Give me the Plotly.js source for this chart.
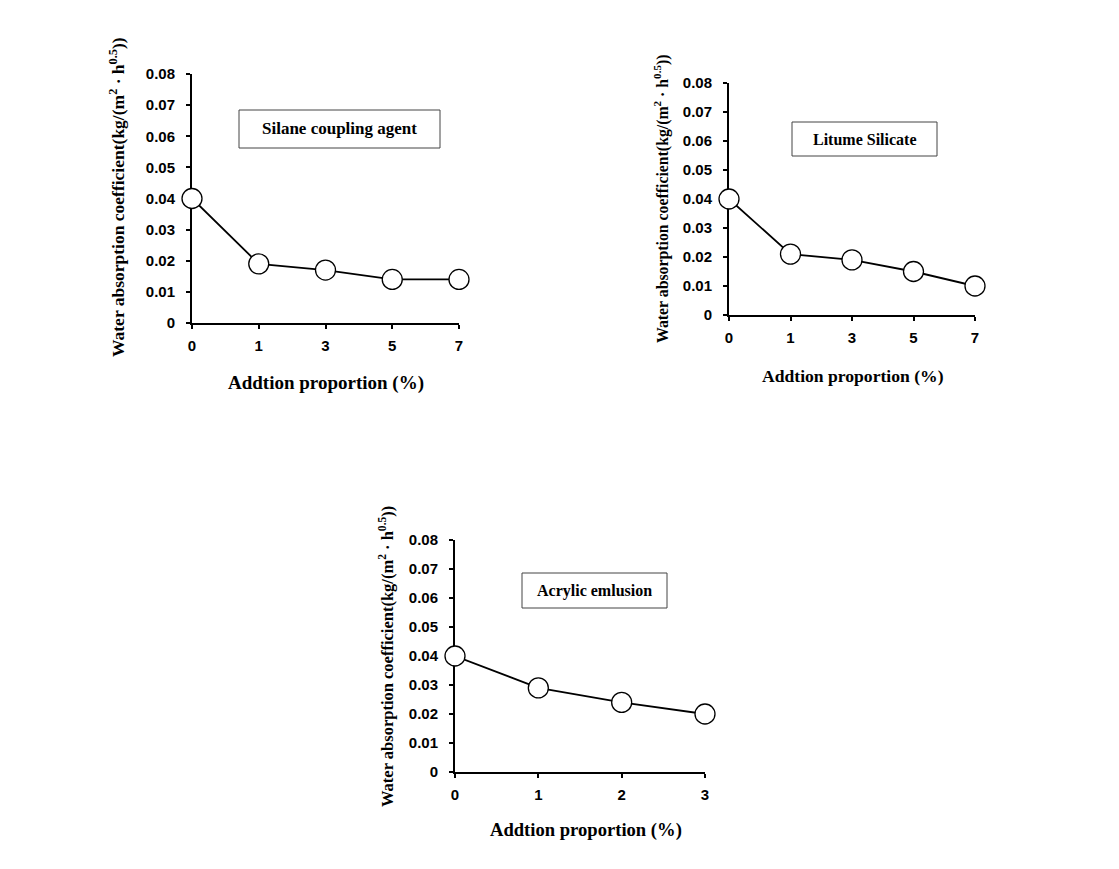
<!DOCTYPE html>
<html>
<head>
<meta charset="utf-8">
<script src="https://cdn.plot.ly/plotly-3.0.1.min.js"></script>
<style>html,body{margin:0;padding:0;background:#fff;}#chart{width:1119px;height:869px;}</style>
</head>
<body>
<div id="chart"></div>
<script>
// Data
const silaneX = ["0", "1", "3", "5", "7"];
const silaneY = [0.040, 0.019, 0.017, 0.014, 0.014];
const litumeX = ["0", "1", "3", "5", "7"];
const litumeY = [0.040, 0.021, 0.019, 0.015, 0.010];
const acrylicX = ["0", "1", "2", "3"];
const acrylicY = [0.040, 0.029, 0.024, 0.020];
const panelNames = ["Silane coupling agent", "Litume Silicate", "Acrylic emlusion"];
const yTickVals = [0, 0.01, 0.02, 0.03, 0.04, 0.05, 0.06, 0.07, 0.08];
const yTickText = ["0", "0.01", "0.02", "0.03", "0.04", "0.05", "0.06", "0.07", "0.08"];
const xTitle = "Addtion proportion (%)";
const yTitle = "Water absorption coefficient(kg/(m<sup>2</sup> · h<sup>0.5</sup>))";

const W = 1119, H = 869;
const tickFont = {family: "Liberation Sans, Arial, sans-serif", size: 15, color: "#000", weight: "bold"};
const serifBold = {family: "Liberation Serif, Times New Roman, serif", color: "#000", weight: "bold"};

function mkTrace(x, y, xa, ya) {
  return {
    x: x, y: y, xaxis: xa, yaxis: ya, type: "scatter", mode: "lines+markers",
    line: {color: "#000", width: 1.8},
    marker: {symbol: "circle", size: 20, color: "#fff", line: {color: "#000", width: 1.3}},
    cliponaxis: false, showlegend: false, hoverinfo: "x+y"
  };
}

// panel geometry in pixels: [left, right, top, bottom]
const P = [[192, 459, 74, 323], [729, 975, 83, 315], [455, 705, 540, 772]];
function dx(px) { return px / W; }
function dy(py) { return 1 - py / H; }

function xa(p, n) {
  return {
    domain: [dx(P[p][0]), dx(P[p][1])], anchor: "y" + (p === 0 ? "" : p + 1),
    type: "category", range: [0, n - 1], showgrid: false, zeroline: false,
    showline: true, linecolor: "#000", linewidth: 2, layer: "below traces",
    ticks: "outside", ticklen: 4, tickwidth: 2, tickcolor: "#000",
    ticklabelstandoff: 4,
    tickfont: tickFont, fixedrange: true
  };
}
function ya(p) {
  return {
    domain: [dy(P[p][3]), dy(P[p][2])], anchor: "x" + (p === 0 ? "" : p + 1),
    range: [0, 0.08], tickvals: yTickVals, ticktext: yTickText,
    showgrid: false, zeroline: false, showline: true, linecolor: "#000", linewidth: 2,
    layer: "below traces",
    ticks: "outside", ticklen: 4, tickwidth: 2, tickcolor: "#000",
    ticklabelstandoff: 8,
    tickfont: tickFont, fixedrange: true
  };
}

const data = [
  mkTrace(silaneX, silaneY, "x", "y"),
  mkTrace(litumeX, litumeY, "x2", "y2"),
  mkTrace(acrylicX, acrylicY, "x3", "y3")
];

const boxes = [[239, 440, 110, 148], [792, 937, 122, 156], [522, 667, 573, 608]];
const boxFontSize = [17, 16, 16];
const shapes = boxes.map(b => ({
  type: "rect", xref: "paper", yref: "paper",
  x0: dx(b[0]), x1: dx(b[1]), y0: dy(b[3]), y1: dy(b[2]),
  line: {color: "#444", width: 1}, fillcolor: "#fff"
}));

const annotations = [];
boxes.forEach((b, i) => {
  annotations.push({
    xref: "paper", yref: "paper", x: dx((b[0] + b[1]) / 2), y: dy((b[2] + b[3]) / 2),
    text: panelNames[i], showarrow: false, xanchor: "center", yanchor: "middle",
    font: Object.assign({}, serifBold, {size: boxFontSize[i]})
  });
});
// axis titles
const xTitlePos = [[326, 383], [853, 376], [586, 830]];
const xTitleSize = [19, 17.6, 18.6];
xTitlePos.forEach((p, i) => annotations.push({
  xref: "paper", yref: "paper", x: dx(p[0]), y: dy(p[1]), text: xTitle, showarrow: false,
  xanchor: "center", yanchor: "middle", font: Object.assign({}, serifBold, {size: xTitleSize[i]})
}));
const yTitlePos = [[117, 197], [661, 199], [386, 657]];
const yTitleSize = [17.5, 15.8, 16.5];
yTitlePos.forEach((p, i) => annotations.push({
  xref: "paper", yref: "paper", x: dx(p[0]), y: dy(p[1]), text: yTitle, showarrow: false,
  textangle: -90, xanchor: "center", yanchor: "middle", font: Object.assign({}, serifBold, {size: yTitleSize[i]})
}));

const layout = {
  width: W, height: H, margin: {l: 0, r: 0, t: 0, b: 0},
  paper_bgcolor: "#fff", plot_bgcolor: "rgba(0,0,0,0)",
  xaxis: xa(0, 5), yaxis: ya(0),
  xaxis2: xa(1, 5), yaxis2: ya(1),
  xaxis3: xa(2, 4), yaxis3: ya(2),
  shapes: shapes, annotations: annotations, showlegend: false
};

Plotly.newPlot("chart", data, layout, {displayModeBar: false, staticPlot: true});
</script>
</body>
</html>
